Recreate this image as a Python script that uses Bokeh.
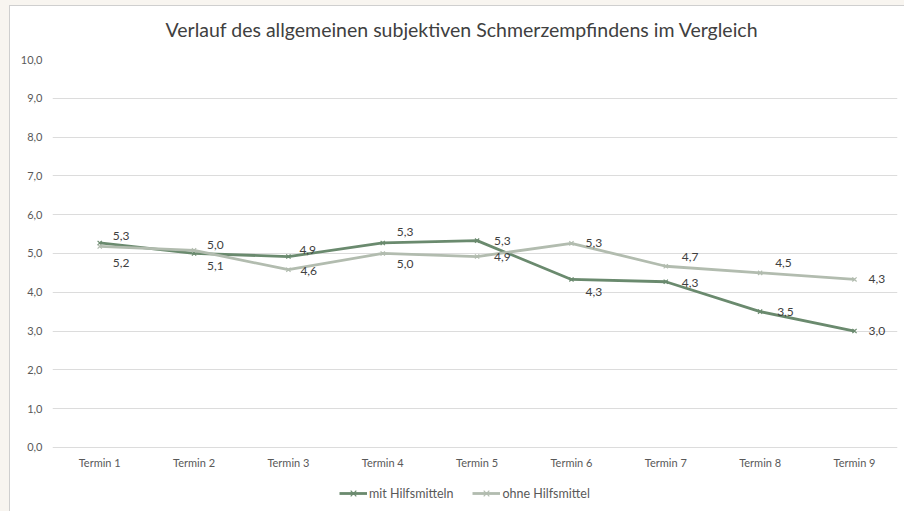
from bokeh.plotting import figure
from bokeh.models import (Range1d, FixedTicker, ColumnDataSource, Legend,
                          LegendItem, LinearAxis)
from bokeh.core.properties import value
from bokeh.embed import file_html
from bokeh.resources import INLINE

# ---- data ----
termine = ["Termin 1", "Termin 2", "Termin 3", "Termin 4", "Termin 5",
           "Termin 6", "Termin 7", "Termin 8", "Termin 9"]
mit_hilfsmitteln = [5.27, 5.00, 4.92, 5.27, 5.33, 4.33, 4.27, 3.50, 3.00]
ohne_hilfsmittel = [5.18, 5.08, 4.58, 5.00, 4.92, 5.26, 4.67, 4.50, 4.33]
y_ticks = [0, 1, 2, 3, 4, 5, 6, 7, 8, 9, 10]
title_text = "Verlauf des allgemeinen subjektiven Schmerzempfindens im Vergleich"

# label offsets (pixels) for the data labels
mit_dx = [13, 13, 11, 14, 17, 14, 16, 17, 14]
mit_dy = [-7, -8, -7, -11, 0, 13, 1, 0, 0]
ohne_dx = [13, 13, 12, 14, 17, 14, 16, 15, 14]
ohne_dy = [17, 16, 1, 11, 0, 0, -9, -10, 0]

FONT = "Lato"
DARK = "#6a8a6e"
LIGHT = "#b2bcaf"
TXT = "#595959"
PAGE_BG = "#f8f5f0"

xs = list(range(1, len(termine) + 1))

p = figure(width=904, height=511, output_backend="svg", toolbar_location=None,
           x_range=Range1d(0.4995, 9.456), y_range=Range1d(-1.55, 10),
           x_axis_location=None,
           min_border_left=52, min_border_right=7, min_border_top=59,
           min_border_bottom=4)
p.background_fill_color = "white"
p.border_fill_alpha = 0
p.outline_line_color = None
p.styles = {
    "background-color": "white",
    "box-shadow": f"inset 9px 5px 0 0 {PAGE_BG}, inset 10px 6px 0 0 #cfcfcf",
}

p.title.text = title_text
p.title.align = "left"
p.title.vertical_align = "top"
p.title.text_font = FONT
p.title.text_font_size = "19.5px"
p.title.text_font_style = "normal"
p.title.text_color = "#404040"
p.title.offset = 113
p.title.standoff = 33

# axes
xaxis = LinearAxis(fixed_location=0, ticker=FixedTicker(ticks=xs),
                   major_label_overrides={x: t for x, t in zip(xs, termine)})
p.add_layout(xaxis, "below")
p.yaxis.ticker = FixedTicker(ticks=y_ticks)
p.yaxis.major_label_overrides = {t: f"{t},0" for t in y_ticks}
for ax in (xaxis, p.yaxis[0]):
    ax.axis_line_color = None
    ax.major_tick_line_color = None
    ax.minor_tick_line_color = None
    ax.major_tick_out = 0
    ax.major_tick_in = 0
    ax.minor_tick_out = 0
    ax.major_label_text_font = FONT
    ax.major_label_text_font_size = "11px"
    ax.major_label_text_color = TXT
p.yaxis.major_label_standoff = 10
xaxis.major_label_standoff = 9

p.xgrid.grid_line_color = None
p.ygrid.grid_line_color = "#dcdcdc"
p.ygrid.grid_line_width = 1

src = ColumnDataSource(dict(
    x=xs, mit=mit_hilfsmitteln, ohne=ohne_hilfsmittel,
    mit_lbl=[f"{v:.1f}".replace(".", ",") for v in mit_hilfsmitteln],
    ohne_lbl=[f"{v:.1f}".replace(".", ",") for v in ohne_hilfsmittel],
    mdx=mit_dx, mdy=mit_dy, odx=ohne_dx, ody=ohne_dy,
))

l1 = p.line("x", "mit", source=src, line_color=DARK, line_width=2.8)
m1 = p.scatter("x", "mit", source=src, marker="x", size=6, line_color=DARK, line_width=1.2)
l2 = p.line("x", "ohne", source=src, line_color=LIGHT, line_width=2.8)
m2 = p.scatter("x", "ohne", source=src, marker="x", size=6, line_color=LIGHT, line_width=1.2)

p.text("x", "mit", text="mit_lbl", source=src, x_offset="mdx", y_offset="mdy",
       text_font=value(FONT), text_font_size="12px", text_color="#404040",
       text_baseline="middle", text_align="left")
p.text("x", "ohne", text="ohne_lbl", source=src, x_offset="odx", y_offset="ody",
       text_font=value(FONT), text_font_size="12px", text_color="#404040",
       text_baseline="middle", text_align="left")

legend = Legend(items=[
    LegendItem(label="mit Hilfsmitteln", renderers=[l1, m1]),
    LegendItem(label="ohne Hilfsmittel", renderers=[l2, m2]),
], orientation="horizontal", location=(287, 4))
legend.border_line_color = None
legend.background_fill_alpha = 0
legend.label_text_font = FONT
legend.label_text_font_size = "12.5px"
legend.label_text_color = TXT
legend.glyph_width = 28
legend.label_standoff = 2
legend.spacing = 19
legend.padding = 2
legend.margin = 0
p.add_layout(legend, "center")

open("out.html", "w").write(file_html(p, INLINE))
